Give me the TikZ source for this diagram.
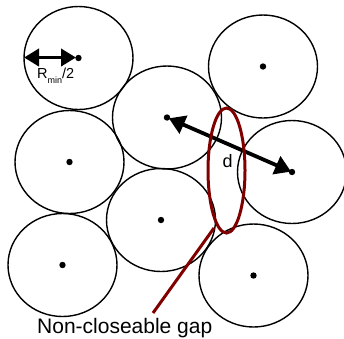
\documentclass[tikz,border=0pt]{standalone}
\usepackage{fontspec}
\setmainfont{Liberation Sans}
\usetikzlibrary{arrows.meta}
\definecolor{gapred}{RGB}{128,0,0}
\begin{document}
\begin{tikzpicture}[x=1pt,y=-1pt,
  disk/.style={draw=black,line width=1.4pt},
  dotc/.style={fill=black},
  bigarrow/.style={line width=3.8pt,{Triangle[length=16pt,width=19pt]}-{Triangle[length=16pt,width=19pt]}},
  redline/.style={draw=gapred,line width=3pt},
  lbl/.style={inner sep=0pt,font=\fontsize{18}{20}\selectfont}]
\useasboundingbox (0,0) rectangle (344,338);
% centres
\coordinate (c1) at (78.5,58);
\coordinate (c2) at (263,66.5);
\coordinate (c3) at (167,117.5);
\coordinate (c4) at (69.5,162);
\coordinate (c5) at (292,172);
\coordinate (c6) at (161,220);
\coordinate (c7) at (62.5,265);
\coordinate (c8) at (253.5,275.5);
\foreach \c in {c1,c2,c3,c4,c5,c6,c7,c8}{
  \draw[disk] (\c) ellipse (54.5 and 51.5);
  \fill[dotc] (\c) circle (3.2);
}
% R_min/2 arrow
\coordinate (redge) at (24,57.5);
\coordinate (rend) at (76,57.5);
\draw[bigarrow,{Triangle[length=15pt,width=17pt]}-{Triangle[length=15pt,width=17pt]}] (redge) -- (rend);
\node[inner sep=0pt,anchor=base west,font=\fontsize{14.5}{16}\selectfont] (rlab) at (37,78) {R\raisebox{-5pt}{\fontsize{9}{10}\selectfont min}/2};
% d arrow
\draw[bigarrow,shorten <=2pt,shorten >=1pt] (c3) -- (c5);
\node[lbl,anchor=base west] (dlab) at (222.5,167) {d};
% gap
\draw[redline] (226.5,170.5) ellipse (18.5 and 62.5);
\coordinate (g1) at (214,228);
\coordinate (g2) at (153,313);
\draw[redline] (g1) -- (g2);
\node[inner sep=0pt,anchor=base west,font=\fontsize{21}{24}\selectfont] (gaplab) at (37,333) {Non-closeable gap};
\end{tikzpicture}
\end{document}
